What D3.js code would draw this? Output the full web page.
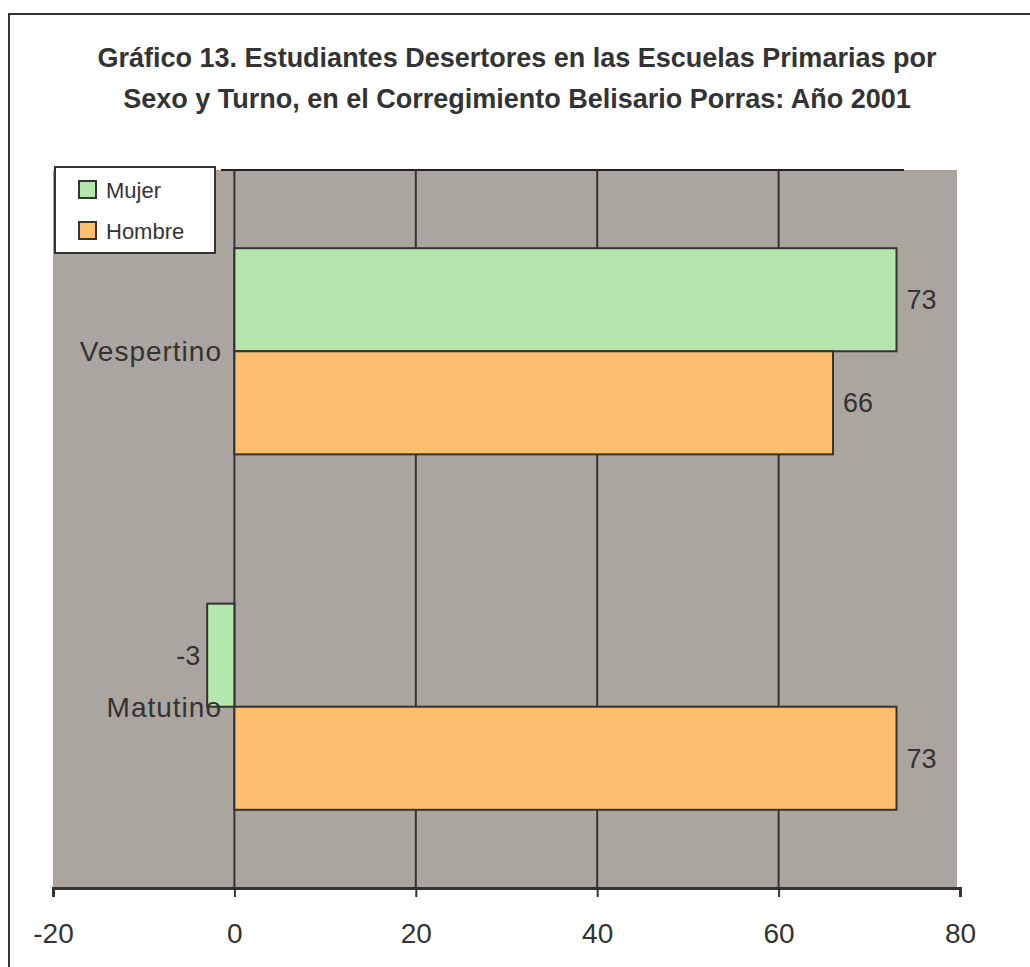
<!DOCTYPE html>
<html>
<head>
<meta charset="utf-8">
<script src="https://cdn.jsdelivr.net/npm/d3@7"></script>
<style>
  html, body { margin: 0; padding: 0; background: #ffffff; }
  svg { display: block; font-family: "Liberation Sans", Arial, sans-serif; }
</style>
</head>
<body>
<svg id="chart" width="1030" height="967"></svg>
<script>
// ---- data ----
const titleLines = [
  "Gráfico 13. Estudiantes Desertores en las Escuelas Primarias por",
  "Sexo y Turno, en el Corregimiento Belisario Porras: Año 2001"
];
const categories = ["Vespertino", "Matutino"];
const seriesNames = ["Mujer", "Hombre"];
const mujerValues = [73, -3];
const hombreValues = [66, 73];
const xTicks = [-20, 0, 20, 40, 60, 80];

const seriesColors = { "Mujer": "#b4e6ae", "Hombre": "#fcbf6e" };

const svg = d3.select("#chart");

// outer frame (only top & left edges visible)
svg.append("rect")
  .attr("x", 9).attr("y", 14).attr("width", 1060).attr("height", 1000)
  .attr("fill", "#ffffff").attr("stroke", "#333").attr("stroke-width", 2);

// title
svg.append("g").selectAll("text").data(titleLines).join("text")
  .attr("x", 517).attr("y", (d, i) => 67 + i * 41)
  .attr("text-anchor", "middle")
  .attr("font-size", 27).attr("font-weight", "bold").attr("fill", "#333")
  .text(d => d);

// scales
const x = d3.scaleLinear().domain([-20, 80]).range([53, 960]);
const y = d3.scaleBand().domain(categories).range([170, 888])
  .paddingInner(0.42).paddingOuter(0.22);
const ySub = d3.scaleBand().domain(seriesNames).range([0, y.bandwidth()]);

// plot background
svg.append("rect")
  .attr("x", x(-20)).attr("y", 170)
  .attr("width", 957 - x(-20)).attr("height", 888 - 170)
  .attr("fill", "#aaa59f");

// top edge line
svg.append("line").attr("x1", 221).attr("x2", 904).attr("y1", 170).attr("y2", 170)
  .attr("stroke", "#222").attr("stroke-width", 2);

// gridlines
svg.append("g").selectAll("line").data(xTicks.filter(t => t >= 0 && t < 80)).join("line")
  .attr("x1", d => x(d)).attr("x2", d => x(d))
  .attr("y1", 170).attr("y2", 888)
  .attr("stroke", "#333").attr("stroke-width", 2);

// bars
const rows = categories.map((c, i) => ({
  cat: c,
  vals: [{ s: "Mujer", v: mujerValues[i] }, { s: "Hombre", v: hombreValues[i] }]
}));

const groups = svg.append("g").selectAll("g").data(rows).join("g")
  .attr("transform", d => `translate(0,${y(d.cat)})`);

groups.selectAll("rect").data(d => d.vals).join("rect")
  .attr("x", d => x(Math.min(0, d.v)))
  .attr("y", d => ySub(d.s))
  .attr("width", d => Math.abs(x(d.v) - x(0)))
  .attr("height", ySub.bandwidth())
  .attr("fill", d => seriesColors[d.s])
  .attr("stroke", "#333").attr("stroke-width", 2);

// data labels
groups.selectAll("text").data(d => d.vals).join("text")
  .attr("x", d => d.v >= 0 ? x(d.v) + 10 : x(d.v) - 7)
  .attr("y", d => ySub(d.s) + ySub.bandwidth() / 2)
  .attr("dy", "0.35em")
  .attr("text-anchor", d => d.v >= 0 ? "start" : "end")
  .attr("font-size", 27).attr("fill", "#333")
  .text(d => String(d.v));

// category labels
svg.append("g").selectAll("text").data(categories).join("text")
  .attr("x", 222)
  .attr("y", d => y(d) + y.bandwidth() / 2)
  .attr("dy", "0.35em")
  .attr("text-anchor", "end")
  .attr("font-size", 28).attr("letter-spacing", 1).attr("fill", "#333")
  .text(d => d);

// x axis
const xAxis = d3.axisBottom(x).tickValues(xTicks).tickSize(9).tickPadding(26)
  .tickFormat(d => String(d));
const ax = svg.append("g").attr("transform", "translate(0,888)").call(xAxis);
ax.select(".domain").attr("stroke", "#333").attr("stroke-width", 3);
ax.selectAll(".tick line").attr("stroke", "#333").attr("stroke-width", 2);
ax.selectAll(".tick text").attr("font-size", 28).attr("fill", "#333")
  .attr("font-family", "Liberation Sans, Arial, sans-serif");

// legend
const lg = svg.append("g").attr("transform", "translate(55,167)");
lg.append("rect").attr("width", 160).attr("height", 86)
  .attr("fill", "#ffffff").attr("stroke", "#333").attr("stroke-width", 2);
const li = lg.selectAll("g").data(seriesNames).join("g")
  .attr("transform", (d, i) => `translate(24,${14 + i * 41})`);
li.append("rect").attr("width", 17).attr("height", 17)
  .attr("fill", d => seriesColors[d]).attr("stroke", "#333").attr("stroke-width", 2);
li.append("text").attr("x", 27).attr("y", 9).attr("dy", "0.35em")
  .attr("font-size", 22).attr("fill", "#333").text(d => d);
</script>
</body>
</html>
